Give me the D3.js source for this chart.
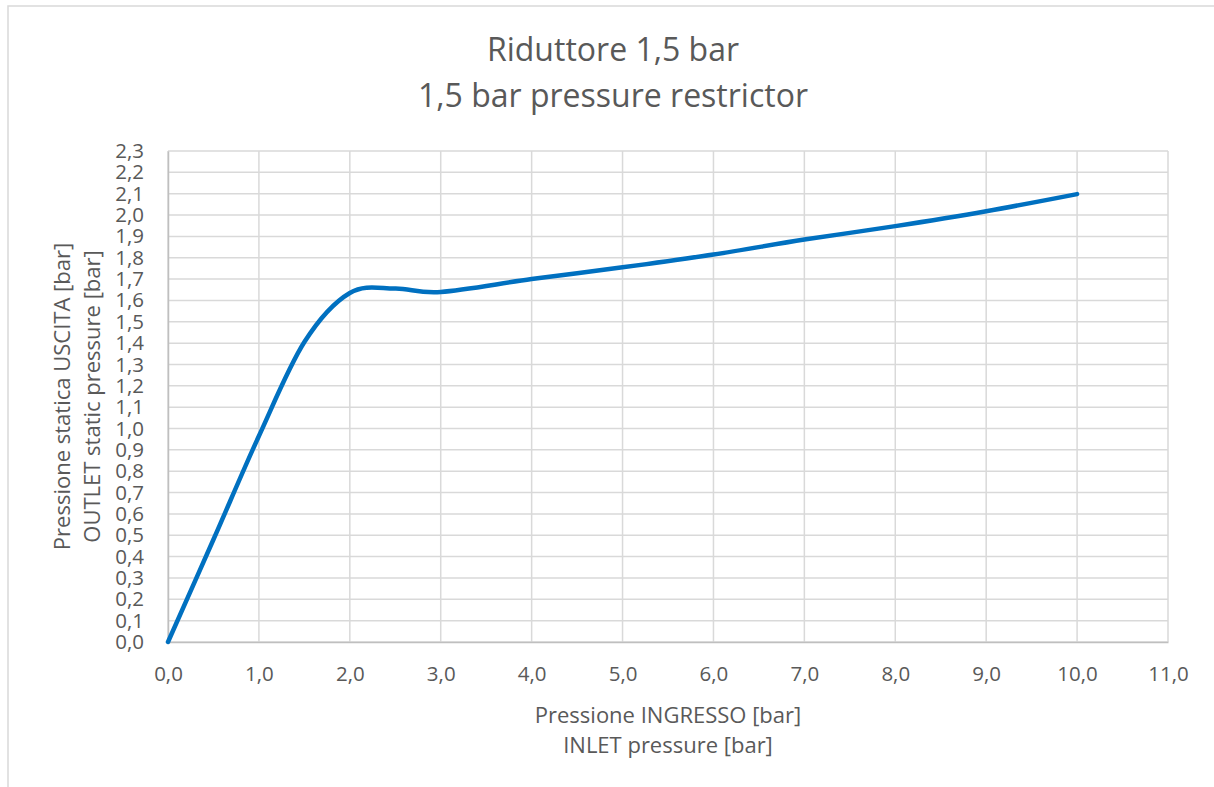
<!DOCTYPE html>
<html>
<head>
<meta charset="utf-8">
<script src="https://cdn.jsdelivr.net/npm/d3@7"></script>
<style>
  body { margin: 0; background: #fff; }
  text { font-family: "Open Sans", sans-serif; fill: #595959; }
</style>
</head>
<body>
<svg id="chart" width="1214" height="787"></svg>
<script>
// data
const inletPressure = [0, 0.5, 1, 1.5, 2, 2.5, 3, 4, 5, 6, 7, 8, 9, 10];
const outletPressure = [0, 0.48, 0.965, 1.405, 1.635, 1.656, 1.64, 1.70, 1.755, 1.815, 1.885, 1.948, 2.018, 2.098];
const xTicks = d3.range(0, 12, 1);
const yTicks = d3.range(0, 24).map(i => i / 10);
const titleLines = ["Riduttore 1,5 bar", "1,5 bar pressure restrictor"];
const xTitleLines = ["Pressione INGRESSO [bar]", "INLET pressure [bar]"];
const yTitleLines = ["Pressione statica USCITA [bar]", "OUTLET static pressure [bar]"];

const svg = d3.select("#chart");
const margin = {left: 168, top: 151, right: 1168, bottom: 642};

const locale = d3.formatLocale({decimal: ",", thousands: ".", grouping: [3], currency: ["", "€"]});
const fmt = locale.format(".1f");

const x = d3.scaleLinear().domain([0, 11]).range([margin.left, margin.right]);
const y = d3.scaleLinear().domain([0, 2.3]).range([margin.bottom, margin.top]);

// outer chart frame
svg.append("rect")
    .attr("x", 8).attr("y", 6)
    .attr("width", 1220).attr("height", 800)
    .attr("fill", "none")
    .attr("stroke", "#d9d9d9")
    .attr("stroke-width", 1.5);

// gridlines
const grid = svg.append("g").attr("class", "grid");
grid.selectAll("line.h")
    .data(yTicks)
    .enter().append("line")
    .attr("class", "h")
    .attr("x1", margin.left).attr("x2", margin.right)
    .attr("y1", d => y(d)).attr("y2", d => y(d))
    .attr("stroke", "#d9d9d9").attr("stroke-width", 1.5);
grid.selectAll("line.v")
    .data(xTicks)
    .enter().append("line")
    .attr("class", "v")
    .attr("y1", margin.top).attr("y2", margin.bottom)
    .attr("x1", d => x(d)).attr("x2", d => x(d))
    .attr("stroke", "#d9d9d9").attr("stroke-width", 1.5);

// axes (labels only)
const xAxis = svg.append("g")
    .attr("transform", "translate(0," + margin.bottom + ")")
    .call(d3.axisBottom(x).tickValues(xTicks).tickFormat(fmt).tickSize(0).tickPadding(24.5));
xAxis.select(".domain").attr("stroke", "#bfbfbf").attr("stroke-width", 1.5);
xAxis.selectAll("text").style("font-size", "20.5px").attr("fill", "#595959");

const yAxis = svg.append("g")
    .attr("transform", "translate(" + margin.left + ",0)")
    .call(d3.axisLeft(y).tickValues(yTicks).tickFormat(fmt).tickSize(0).tickPadding(24));
yAxis.select(".domain").attr("stroke", "#bfbfbf").attr("stroke-width", 1.5);
yAxis.selectAll("text").style("font-size", "20.5px").attr("fill", "#595959");

// the curve (Excel-like smoothing)
const line = d3.line()
    .x(d => x(d[0]))
    .y(d => y(d[1]))
    .curve(d3.curveCardinal.tension(0));

svg.append("path")
    .datum(d3.zip(inletPressure, outletPressure))
    .attr("d", line)
    .attr("fill", "none")
    .attr("stroke", "#0070c0")
    .attr("stroke-width", 4.5)
    .attr("stroke-linecap", "round");

// titles
svg.selectAll("text.title")
    .data(titleLines)
    .enter().append("text")
    .attr("class", "title")
    .attr("x", 613)
    .attr("y", (d, i) => 61 + i * 46)
    .attr("text-anchor", "middle")
    .style("font-size", "32px")
    .text(d => d);

svg.selectAll("text.xtitle")
    .data(xTitleLines)
    .enter().append("text")
    .attr("class", "xtitle")
    .attr("x", (margin.left + margin.right) / 2)
    .attr("y", (d, i) => 723 + i * 30)
    .attr("text-anchor", "middle")
    .style("font-size", "22px")
    .text(d => d);

svg.selectAll("text.ytitle")
    .data(yTitleLines)
    .enter().append("text")
    .attr("class", "ytitle")
    .attr("transform", (d, i) => "translate(" + (70 + i * 30) + "," + ((margin.top + margin.bottom) / 2) + ") rotate(-90)")
    .attr("text-anchor", "middle")
    .style("font-size", "22px")
    .text(d => d);
</script>
</body>
</html>
